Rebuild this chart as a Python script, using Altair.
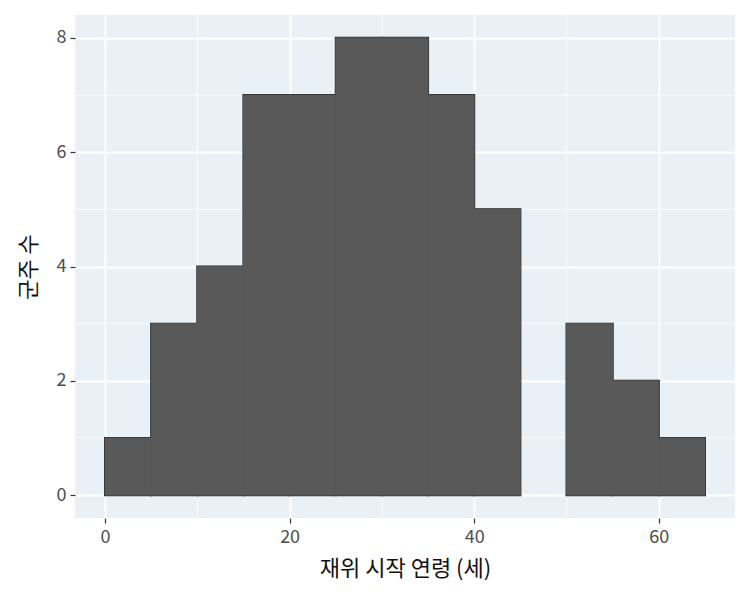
import altair as alt
import pandas as pd

bin_start = [0, 5, 10, 15, 20, 25, 30, 35, 40, 45, 50, 55, 60]
counts = [1, 3, 4, 7, 7, 8, 8, 7, 5, 0, 3, 2, 1]
x_ticks = [0, 20, 40, 60]
y_ticks = [0, 2, 4, 6, 8]
x_minor = [10, 30, 50]
y_minor = [1, 3, 5, 7]

df = pd.DataFrame({"start": bin_start, "end": [b + 5 for b in bin_start], "n": counts})
df = df[df["n"] > 0]

FONT = "Noto Sans CJK KR"
xs = alt.Scale(domain=[-3.25, 68.25], nice=False, zero=False)
ys = alt.Scale(domain=[-0.4, 8.4], nice=False, zero=False)

xmin = alt.Chart(pd.DataFrame({"v": x_minor})).mark_rule(color="white", strokeWidth=0.8).encode(
    x=alt.X("v:Q", scale=xs))
ymin = alt.Chart(pd.DataFrame({"v": y_minor})).mark_rule(color="white", strokeWidth=0.8).encode(
    y=alt.Y("v:Q", scale=ys))

base = alt.Chart(df).encode(
    x=alt.X("start:Q", scale=xs, title="재위 시작 연령 (세)",
            axis=alt.Axis(values=x_ticks, grid=True, gridColor="white", gridWidth=1.8,
                          domain=False, tickColor="#333333", tickSize=5, tickWidth=1.2,
                          labelColor="#4d4d4d", labelFontSize=18, labelFont=FONT,
                          titleFont=FONT, titleFontSize=22, titleFontWeight="normal",
                          titleColor="#111111", labelPadding=5, titlePadding=12)),
    x2="end:Q",
    y=alt.Y("n:Q", scale=ys, title="군주 수",
            axis=alt.Axis(values=y_ticks, format="d", grid=True, gridColor="white", gridWidth=1.8,
                          domain=False, tickColor="#333333", tickSize=5, tickWidth=1.2,
                          labelColor="#4d4d4d", labelFontSize=18, labelFont=FONT,
                          titleFont=FONT, titleFontSize=22, titleFontWeight="normal",
                          titleColor="#111111", labelPadding=4, titlePadding=16)),
    y2=alt.datum(0),
)

outline = base.mark_bar(color="#595959", stroke="#222222", strokeWidth=2)
fill = base.mark_bar(color="#595959", stroke="#595959", strokeWidth=0.9)

chart = alt.layer(xmin, ymin, outline, fill).properties(
    width=660, height=503,
    autosize=alt.AutoSizeParams(type="none"),
    padding={"left": 67, "top": 7, "right": 0, "bottom": 70},
).configure_view(fill="#EAF1F6", stroke=None)

chart.save("out.html", embed_options={"renderer": "svg", "actions": False})
